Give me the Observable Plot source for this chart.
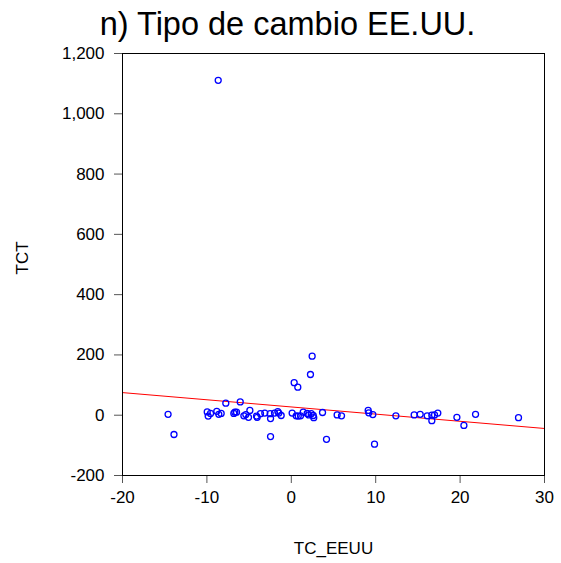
<!DOCTYPE html>
<html><head><meta charset="utf-8">
<script src="https://cdn.jsdelivr.net/npm/d3@7"></script>
<script src="https://cdn.jsdelivr.net/npm/@observablehq/plot@0.6"></script>
<style>body{margin:0;background:#fff;} svg{display:block;}</style>
</head><body><div id="chart"></div>
<script>
const tcEEUU = [-14.6,-13.9,-9.96,-9.85,-9.57,-8.83,-8.59,-8.31,-7.76,-6.81,-6.69,-6.49,-6.05,-5.62,-5.39,-5.07,-4.91,-4.12,-4.04,-3.65,-3.14,-2.5,-2.46,-2.46,-1.99,-1.6,-1.48,-1.2,0.1,0.34,0.77,0.58,0.82,1.09,1.41,1.88,2.07,2.27,2.36,2.6,2.66,2.47,3.7,4.17,5.43,5.95,9.11,9.18,9.66,9.86,12.39,14.56,15.27,16.1,16.65,16.65,16.97,17.36,19.62,20.45,21.83,26.92,-8.66];
const tct = [3,-64,11,-3,6,13,3,6,40,6,10,10,44,-2,2,-7,16,-3,-7,5,7,5,-11,-71,7,12,7,-1,7,108,93,-2,-3,-2,10,6,1,135,5,-1,-8,196,9,-80,1,-2,16,8,2,-96,-2,1,3,-2,0,-18,1,7,-7,-34,3,-8,1111];
const fitX = [-20, 30];
const fitY = [75, -44];
const xTicks = [-20,-10,0,10,20,30];
const yTicks = [-200,0,200,400,600,800,1000,1200];
const title = "n) Tipo de cambio EE.UU.";
const xLabel = "TC_EEUU";
const yLabel = "TCT";

const pts = tcEEUU.map((x,i)=>({x, y: tct[i]}));
const fit = fitX.map((x,i)=>({x, y: fitY[i]}));
const fmt = d => d.toLocaleString("en-US");

const chart = Plot.plot({
  width: 561, height: 563,
  marginLeft: 122, marginRight: 17, marginTop: 53, marginBottom: 88,
  style: {fontFamily: "'Liberation Sans', Arial, sans-serif", fontSize: "17px", color: "#000", background: "#fff"},
  x: {domain: [-20, 30], label: null},
  y: {domain: [-200, 1200], label: null},
  marks: [
    Plot.axisX({ticks: xTicks, tickFormat: fmt, tickSize: 8, tickPadding: 7, label: null, fontSize: 17, stroke: "#555"}),
    Plot.axisY({ticks: yTicks, tickFormat: fmt, tickSize: 8, tickPadding: 10, label: null, fontSize: 17, stroke: "#555"}),
    Plot.line(fit, {x: "x", y: "y", stroke: "#ff0000", strokeWidth: 1}),
    Plot.dot(pts, {x: "x", y: "y", r: 3, stroke: "#0000ff", strokeWidth: 1.3, fill: "none"}),
    Plot.frame({stroke: "#000", strokeWidth: 1}),
    Plot.text([title], {frameAnchor: "top", lineAnchor: "bottom", dx: -46, dy: -19, fontSize: 32.5, fill: "#000", text: d => d}),
    Plot.text([xLabel], {frameAnchor: "bottom", lineAnchor: "bottom", dy: 78, fontSize: 17, fill: "#000", text: d => d}),
    Plot.text([yLabel], {frameAnchor: "left", lineAnchor: "bottom", dx: -95, dy: 10, rotate: -90, fontSize: 17, fill: "#000", text: d => d})
  ]
});
document.getElementById("chart").appendChild(chart);
</script>
</body></html>
